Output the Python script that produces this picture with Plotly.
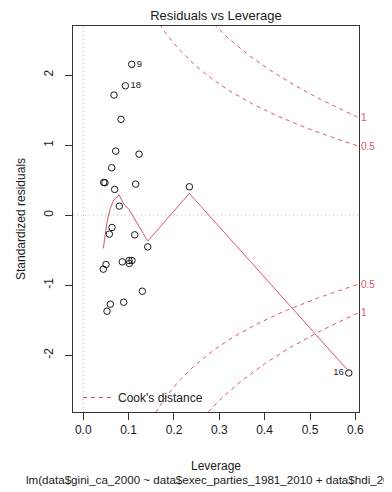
import numpy as np
import plotly.graph_objects as go

# ---- data ----
leverage = [0.1067, 0.0927, 0.0677, 0.0832, 0.0714, 0.1229, 0.0626,
            0.0450, 0.0478, 0.1155, 0.0692, 0.2339, 0.0795, 0.0633,
            0.0574, 0.1134, 0.1421, 0.0501, 0.0441, 0.0860, 0.1008,
            0.1074, 0.1015, 0.1302, 0.0891, 0.0596, 0.0523, 0.5855]
std_resid = [2.153, 1.847, 1.714, 1.367, 0.914, 0.871, 0.676,
             0.467, 0.462, 0.443, 0.367, 0.405, 0.129, -0.176,
             -0.271, -0.281, -0.453, -0.704, -0.771, -0.667, -0.647,
             -0.647, -0.690, -1.086, -1.243, -1.271, -1.371, -2.253]
point_labels = ["9", "18", "", "", "", "", "", "", "", "", "", "", "", "",
                "", "", "", "", "", "", "", "", "", "", "", "", "", "16"]
label_side = ["middle right", "middle right"] + ["middle right"] * 25 + ["middle left"]

smooth_x = [0.0441, 0.0523, 0.0596, 0.0677, 0.0788, 0.0891, 0.1008, 0.1421, 0.2339, 0.5855]
smooth_y = [-0.476, -0.10, 0.10, 0.22, 0.29, 0.16, 0.08, -0.37, 0.31, -2.23]

cook_levels = [0.5, 1]
n_params = 3
x_ticks = [0.0, 0.1, 0.2, 0.3, 0.4, 0.5, 0.6]
y_ticks = [-2, -1, 0, 1, 2]

x_range = [-0.0227, 0.608]
y_range = [-2.81, 2.70]

RED = "#DF536B"
INK = "#1a1a1a"
FONT = "Liberation Sans, Arial, sans-serif"

fig = go.Figure()

# Cook's distance contours
hh = np.linspace(0.002, x_range[1], 101)
for i, c in enumerate(cook_levels):
    cl = np.sqrt(c * n_params * (1 - hh) / hh)
    for sgn in (1, -1):
        fig.add_trace(go.Scatter(
            x=hh, y=sgn * cl, mode="lines",
            line=dict(color=RED, width=1, dash="4px,4px"),
            name="Cook's distance", legendgroup="cook",
            showlegend=(i == 0 and sgn == 1), hoverinfo="skip"))

# smoother
fig.add_trace(go.Scatter(x=smooth_x, y=smooth_y, mode="lines",
                         line=dict(color=RED, width=1), showlegend=False))

# points
fig.add_trace(go.Scatter(
    x=leverage, y=std_resid, mode="markers+text",
    marker=dict(symbol="circle-open", size=6.5, color=INK, line=dict(width=1, color=INK)),
    text=point_labels, textposition=label_side,
    textfont=dict(size=9.5, color=INK, family=FONT),
    showlegend=False))

# Cook's labels at right margin
annotations = []
for c in cook_levels:
    v = float(np.sqrt(c * n_params * (1 - x_range[1]) / x_range[1]))
    for sgn in (1, -1):
        annotations.append(dict(x=1, xref="paper", y=sgn * v, yref="y",
                                text=f"{c:g}", showarrow=False, xanchor="left",
                                xshift=0, font=dict(size=10, color=RED, family=FONT)))

annotations.append(dict(x=0.5, xref="paper", y=0, yref="paper", yshift=-54,
                        text="Leverage", showarrow=False, yanchor="middle",
                        font=dict(size=12, color=INK, family=FONT)))
annotations.append(dict(x=0.5, xref="paper", y=0, yref="paper", yshift=-67,
                        text="lm(data$gini_ca_2000 ~ data$exec_parties_1981_2010 + data$hdi_2000)",
                        showarrow=False, yanchor="middle",
                        font=dict(size=11.6, color=INK, family=FONT)))

shapes = [
    dict(type="line", xref="x", yref="paper", x0=0, x1=0, y0=0, y1=1,
         line=dict(color="#bbbbbb", width=1, dash="1px,3px"), layer="below"),
    dict(type="line", xref="paper", yref="y", x0=0, x1=1, y0=0, y1=0,
         line=dict(color="#bbbbbb", width=1, dash="1px,3px"), layer="below"),
]

# the page body adds an 8px offset, so the figure is sized to fit the window
fig.update_layout(
    width=384, height=484,
    margin=dict(l=65, r=33, t=18, b=80, autoexpand=False),
    paper_bgcolor="white", plot_bgcolor="white",
    font=dict(family=FONT, color=INK, size=12),
    title=dict(text="Residuals vs Leverage", x=0.5, xref="paper", xanchor="center",
               y=1, yref="container", yanchor="top", pad=dict(t=3),
               font=dict(size=13, color=INK, family=FONT)),
    xaxis=dict(range=x_range, tickvals=x_ticks, ticktext=[f"{t:.1f}" for t in x_ticks],
               showgrid=False, zeroline=False, showline=True, mirror=True,
               automargin=False,
               linecolor="#333333", linewidth=1, ticks="outside", ticklen=7,
               tickcolor="#333333", tickfont=dict(size=12, color=INK)),
    yaxis=dict(range=y_range, tickvals=y_ticks, ticktext=[str(t) for t in y_ticks],
               showgrid=False, zeroline=False, showline=True, mirror=True,
               automargin=False,
               linecolor="#333333", linewidth=1, ticks="outside", ticklen=7,
               tickcolor="#333333", tickangle=-90, tickfont=dict(size=12, color=INK),
               ticklabelstandoff=7,
               title=dict(text="Standardized residuals", standoff=14,
                          font=dict(size=12, color=INK))),
    legend=dict(x=0.0175, y=0, xanchor="left", yanchor="bottom",
                bgcolor="rgba(0,0,0,0)",
                font=dict(size=12, color=INK, family=FONT), itemwidth=30),
    annotations=annotations, shapes=shapes,
)

fig.write_html("out.html")
